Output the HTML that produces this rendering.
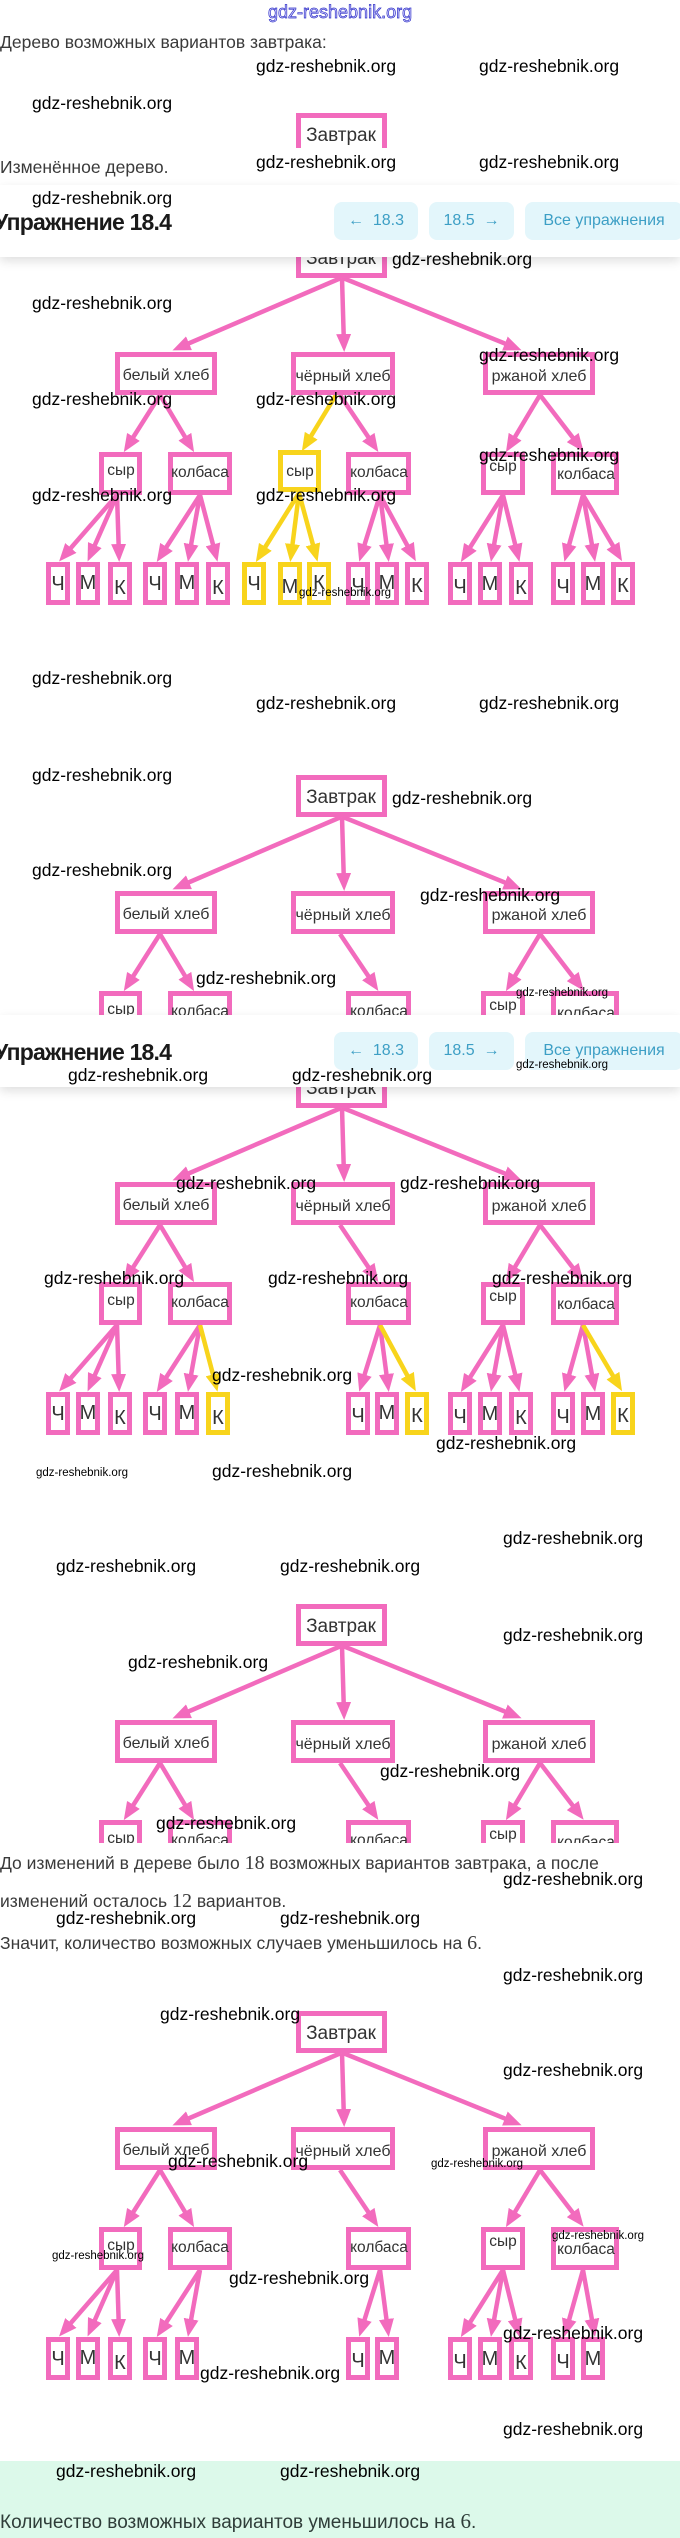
<!DOCTYPE html>
<html><head><meta charset="utf-8">
<style>
html,body{margin:0;padding:0;background:#fff}
body{position:relative;width:680px;height:2538px;overflow:hidden}
.tw{position:absolute;left:0;width:680px;overflow:hidden;z-index:1}
.tw svg{position:absolute;left:0;top:0}
svg text{font-family:"Liberation Sans",sans-serif;fill:#333;text-anchor:middle}
.b{fill:#fff;stroke:#f26bbd;stroke-width:5}
.by{fill:#fff;stroke:#f8d41c;stroke-width:5}
.a{stroke:#f26bbd;stroke-width:4.5;marker-end:url(#mp)}
.ay{stroke:#f8d41c;stroke-width:4.5;marker-end:url(#my)}
.l2{font-size:16px}
.l3{font-size:15.5px}
.lf{font-size:20px}
.w{position:absolute;font:17.5px/1 "Liberation Sans",sans-serif;color:#000;white-space:nowrap;z-index:10}
.ws{position:absolute;font:11.5px/1 "Liberation Sans",sans-serif;color:#000;white-space:nowrap;z-index:10}
.tx{position:absolute;left:0;font:17.5px/1 "Liberation Sans","Noto Sans CJK SC",sans-serif;color:#3a3a3a;white-space:nowrap;z-index:2}
.num{font-family:"Liberation Serif",serif;font-size:20px}
.hdr{position:absolute;left:0;width:680px;height:72px;background:#fff;box-shadow:0 4px 10px rgba(0,0,0,0.13);z-index:5}
.ttl{position:absolute;left:-6px;top:26px;font:bold 23px/1 "Liberation Sans",sans-serif;letter-spacing:-0.8px;color:#1a1a1a;white-space:nowrap}
.btn{position:absolute;top:17px;height:38px;line-height:38px;background:#e3f6fb;border-radius:8px;color:#3d9fc5;font:16px/38px "Liberation Sans",sans-serif;text-align:center;white-space:nowrap}
</style></head><body>

<svg width="0" height="0" style="position:absolute">
<defs>
<marker id="mp" markerUnits="userSpaceOnUse" markerWidth="18" markerHeight="15" viewBox="0 0 18 15" refX="12" refY="7.5" orient="auto"><path d="M0,0L18,7.5L0,15z" fill="#f26bbd"/></marker>
<marker id="my" markerUnits="userSpaceOnUse" markerWidth="18" markerHeight="15" viewBox="0 0 18 15" refX="12" refY="7.5" orient="auto"><path d="M0,0L18,7.5L0,15z" fill="#f8d41c"/></marker>
</defs>
</svg>

<!-- top blue watermark -->
<div style="position:absolute;left:268px;top:3px;font:18px/1 'Liberation Sans',sans-serif;color:#dcdcff;-webkit-text-stroke:0.7px #3030c8;white-space:nowrap;z-index:10">gdz-reshebnik.org</div>

<div class="tx" style="top:34px">Дерево возможных вариантов завтрака:</div>

<!-- Tree 0 fragment -->
<div class="tw" style="top:113px;height:35px">
<svg width="680" height="60" viewBox="0 0 680 60">
<rect class="b" x="298.5" y="2.5" width="86" height="37"/><text x="341" y="28" font-size="19">Завтрак</text>
</svg></div>

<div class="tx" style="top:159px">Изменённое дерево.</div>

<!-- Header 1 -->
<div class="hdr" style="top:185px">
<div class="ttl">Упражнение 18.4</div>
<div class="btn" style="left:334px;width:84px">←&nbsp; 18.3</div>
<div class="btn" style="left:429px;width:85px">18.5 &nbsp;→</div>
<div class="btn" style="left:525px;width:158px">Все упражнения</div>
</div>

<!-- Tree 1 (original, yellow path) -->
<div class="tw" style="top:236px;height:372px">
<svg width="680" height="372" viewBox="0 0 680 372">
<line class="a" x1="341" y1="42" x2="178" y2="112"/>
<line class="a" x1="342" y1="42" x2="344" y2="110"/>
<line class="a" x1="343" y1="42" x2="516" y2="112"/>
<line class="a" x1="160" y1="159" x2="127" y2="211"/>
<line class="a" x1="160" y1="159" x2="191" y2="211"/>
<line class="ay" x1="336" y1="159" x2="305" y2="210"/>
<line class="a" x1="340" y1="159" x2="375" y2="211"/>
<line class="a" x1="540" y1="159" x2="509" y2="211"/>
<line class="a" x1="540" y1="159" x2="580" y2="211"/>
<line class="a" x1="117" y1="259" x2="63" y2="321"/>
<line class="a" x1="117" y1="259" x2="90" y2="320"/>
<line class="a" x1="117" y1="259" x2="119" y2="320"/>
<line class="a" x1="200" y1="259" x2="160" y2="321"/>
<line class="a" x1="200" y1="259" x2="189" y2="320"/>
<line class="a" x1="200" y1="259" x2="216" y2="320"/>
<line class="ay" x1="299" y1="257" x2="259" y2="321"/>
<line class="ay" x1="299" y1="257" x2="291" y2="320"/>
<line class="ay" x1="299" y1="257" x2="316" y2="320"/>
<line class="a" x1="380" y1="259" x2="361" y2="320"/>
<line class="a" x1="380" y1="259" x2="388" y2="320"/>
<line class="a" x1="380" y1="259" x2="413" y2="320"/>
<line class="a" x1="503" y1="259" x2="464" y2="321"/>
<line class="a" x1="503" y1="259" x2="492" y2="320"/>
<line class="a" x1="503" y1="259" x2="518" y2="320"/>
<line class="a" x1="583" y1="259" x2="566" y2="320"/>
<line class="a" x1="583" y1="259" x2="594" y2="320"/>
<line class="a" x1="583" y1="259" x2="619" y2="320"/>
<rect class="b" x="298.5" y="2.5" width="86" height="37"/><text x="341" y="28" font-size="19">Завтрак</text>
<rect class="b" x="117.5" y="118.5" width="97" height="38"/><text class="l2" x="166" y="144">белый хлеб</text>
<rect class="b" x="293.5" y="118.5" width="99" height="38"/><text class="l2" x="343" y="145">чёрный хлеб</text>
<rect class="b" x="485.5" y="118.5" width="107" height="38"/><text class="l2" x="539" y="145">ржаной хлеб</text>
<rect class="b" x="101.5" y="218.5" width="38" height="38"/><text class="l3" x="121" y="239">сыр</text>
<rect class="b" x="170.5" y="218.5" width="59" height="38"/><text class="l3" x="200" y="241">колбаса</text>
<rect class="by" x="280.5" y="216.5" width="38" height="37"/><text class="l3" x="300" y="240">сыр</text>
<rect class="b" x="348.5" y="218.5" width="60" height="38"/><text class="l3" x="379" y="241">колбаса</text>
<rect class="b" x="483.5" y="218.5" width="39" height="38"/><text class="l3" x="503" y="235">сыр</text>
<rect class="b" x="553.5" y="218.5" width="63" height="38"/><text class="l3" x="586" y="243">колбаса</text>
<rect class="b" x="48.5" y="328.5" width="19" height="38"/><text class="lf" x="58" y="354">Ч</text>
<rect class="b" x="78.5" y="328.5" width="19" height="38"/><text class="lf" x="88" y="353">М</text>
<rect class="b" x="110.5" y="328.5" width="19" height="38"/><text class="lf" x="120" y="358">К</text>
<rect class="b" x="145.5" y="328.5" width="19" height="38"/><text class="lf" x="155" y="354">Ч</text>
<rect class="b" x="177.5" y="328.5" width="19" height="38"/><text class="lf" x="187" y="353">М</text>
<rect class="b" x="208.5" y="328.5" width="19" height="38"/><text class="lf" x="218" y="358">К</text>
<rect class="by" x="244.5" y="328.5" width="19" height="38"/><text class="lf" x="254" y="354">Ч</text>
<rect class="by" x="280.5" y="328.5" width="19" height="38"/><text class="lf" x="290" y="357">М</text>
<rect class="by" x="309.5" y="328.5" width="19" height="38"/><text class="lf" x="319" y="353">К</text>
<rect class="b" x="348.5" y="328.5" width="19" height="38"/><text class="lf" x="358" y="356">Ч</text>
<rect class="b" x="377.5" y="328.5" width="19" height="38"/><text class="lf" x="387" y="353">М</text>
<rect class="b" x="407.5" y="328.5" width="19" height="38"/><text class="lf" x="417" y="356">К</text>
<rect class="b" x="450.5" y="328.5" width="19" height="38"/><text class="lf" x="460" y="357">Ч</text>
<rect class="b" x="480.5" y="328.5" width="19" height="38"/><text class="lf" x="490" y="354">М</text>
<rect class="b" x="511.5" y="328.5" width="19" height="38"/><text class="lf" x="521" y="358">К</text>
<rect class="b" x="553.5" y="328.5" width="19" height="38"/><text class="lf" x="563" y="357">Ч</text>
<rect class="b" x="583.5" y="328.5" width="19" height="38"/><text class="lf" x="593" y="354">М</text>
<rect class="b" x="613.5" y="328.5" width="19" height="38"/><text class="lf" x="623" y="356">К</text>
</svg></div>

<!-- Tree 2 (modified, cut) -->
<div class="tw" style="top:775px;height:240px">
<svg width="680" height="372" viewBox="0 0 680 372">
<line class="a" x1="341" y1="42" x2="178" y2="112"/>
<line class="a" x1="342" y1="42" x2="344" y2="110"/>
<line class="a" x1="343" y1="42" x2="516" y2="112"/>
<line class="a" x1="160" y1="159" x2="127" y2="211"/>
<line class="a" x1="160" y1="159" x2="191" y2="211"/>
<line class="a" x1="340" y1="159" x2="375" y2="211"/>
<line class="a" x1="540" y1="159" x2="509" y2="211"/>
<line class="a" x1="540" y1="159" x2="580" y2="211"/>
<rect class="b" x="298.5" y="2.5" width="86" height="37"/><text x="341" y="28" font-size="19">Завтрак</text>
<rect class="b" x="117.5" y="118.5" width="97" height="38"/><text class="l2" x="166" y="144">белый хлеб</text>
<rect class="b" x="293.5" y="118.5" width="99" height="38"/><text class="l2" x="343" y="145">чёрный хлеб</text>
<rect class="b" x="485.5" y="118.5" width="107" height="38"/><text class="l2" x="539" y="145">ржаной хлеб</text>
<rect class="b" x="101.5" y="218.5" width="38" height="38"/><text class="l3" x="121" y="239">сыр</text>
<rect class="b" x="170.5" y="218.5" width="59" height="38"/><text class="l3" x="200" y="241">колбаса</text>
<rect class="b" x="348.5" y="218.5" width="60" height="38"/><text class="l3" x="379" y="241">колбаса</text>
<rect class="b" x="483.5" y="218.5" width="39" height="38"/><text class="l3" x="503" y="235">сыр</text>
<rect class="b" x="553.5" y="218.5" width="63" height="38"/><text class="l3" x="586" y="243">колбаса</text>
</svg></div>

<!-- Header 2 -->
<div class="hdr" style="top:1015px">
<div class="ttl">Упражнение 18.4</div>
<div class="btn" style="left:334px;width:84px">←&nbsp; 18.3</div>
<div class="btn" style="left:429px;width:85px">18.5 &nbsp;→</div>
<div class="btn" style="left:525px;width:158px">Все упражнения</div>
</div>

<!-- Tree 3 (modified, yellow K) -->
<div class="tw" style="top:1066px;height:372px">
<svg width="680" height="372" viewBox="0 0 680 372">
<line class="a" x1="341" y1="42" x2="178" y2="112"/>
<line class="a" x1="342" y1="42" x2="344" y2="110"/>
<line class="a" x1="343" y1="42" x2="516" y2="112"/>
<line class="a" x1="160" y1="159" x2="127" y2="211"/>
<line class="a" x1="160" y1="159" x2="191" y2="211"/>
<line class="a" x1="340" y1="159" x2="375" y2="211"/>
<line class="a" x1="540" y1="159" x2="509" y2="211"/>
<line class="a" x1="540" y1="159" x2="580" y2="211"/>
<line class="a" x1="117" y1="259" x2="63" y2="321"/>
<line class="a" x1="117" y1="259" x2="90" y2="320"/>
<line class="a" x1="117" y1="259" x2="119" y2="320"/>
<line class="a" x1="200" y1="259" x2="160" y2="321"/>
<line class="a" x1="200" y1="259" x2="189" y2="320"/>
<line class="ay" x1="200" y1="259" x2="216" y2="320"/>
<line class="a" x1="380" y1="259" x2="361" y2="320"/>
<line class="a" x1="380" y1="259" x2="388" y2="320"/>
<line class="ay" x1="380" y1="259" x2="413" y2="320"/>
<line class="a" x1="503" y1="259" x2="464" y2="321"/>
<line class="a" x1="503" y1="259" x2="492" y2="320"/>
<line class="a" x1="503" y1="259" x2="518" y2="320"/>
<line class="a" x1="583" y1="259" x2="566" y2="320"/>
<line class="a" x1="583" y1="259" x2="594" y2="320"/>
<line class="ay" x1="583" y1="259" x2="619" y2="320"/>
<rect class="b" x="298.5" y="2.5" width="86" height="37"/><text x="341" y="28" font-size="19">Завтрак</text>
<rect class="b" x="117.5" y="118.5" width="97" height="38"/><text class="l2" x="166" y="144">белый хлеб</text>
<rect class="b" x="293.5" y="118.5" width="99" height="38"/><text class="l2" x="343" y="145">чёрный хлеб</text>
<rect class="b" x="485.5" y="118.5" width="107" height="38"/><text class="l2" x="539" y="145">ржаной хлеб</text>
<rect class="b" x="101.5" y="218.5" width="38" height="38"/><text class="l3" x="121" y="239">сыр</text>
<rect class="b" x="170.5" y="218.5" width="59" height="38"/><text class="l3" x="200" y="241">колбаса</text>
<rect class="b" x="348.5" y="218.5" width="60" height="38"/><text class="l3" x="379" y="241">колбаса</text>
<rect class="b" x="483.5" y="218.5" width="39" height="38"/><text class="l3" x="503" y="235">сыр</text>
<rect class="b" x="553.5" y="218.5" width="63" height="38"/><text class="l3" x="586" y="243">колбаса</text>
<rect class="b" x="48.5" y="328.5" width="19" height="38"/><text class="lf" x="58" y="354">Ч</text>
<rect class="b" x="78.5" y="328.5" width="19" height="38"/><text class="lf" x="88" y="353">М</text>
<rect class="b" x="110.5" y="328.5" width="19" height="38"/><text class="lf" x="120" y="358">К</text>
<rect class="b" x="145.5" y="328.5" width="19" height="38"/><text class="lf" x="155" y="354">Ч</text>
<rect class="b" x="177.5" y="328.5" width="19" height="38"/><text class="lf" x="187" y="353">М</text>
<rect class="by" x="208.5" y="328.5" width="19" height="38"/><text class="lf" x="218" y="358">К</text>
<rect class="b" x="348.5" y="328.5" width="19" height="38"/><text class="lf" x="358" y="356">Ч</text>
<rect class="b" x="377.5" y="328.5" width="19" height="38"/><text class="lf" x="387" y="353">М</text>
<rect class="by" x="407.5" y="328.5" width="19" height="38"/><text class="lf" x="417" y="356">К</text>
<rect class="b" x="450.5" y="328.5" width="19" height="38"/><text class="lf" x="460" y="357">Ч</text>
<rect class="b" x="480.5" y="328.5" width="19" height="38"/><text class="lf" x="490" y="354">М</text>
<rect class="b" x="511.5" y="328.5" width="19" height="38"/><text class="lf" x="521" y="358">К</text>
<rect class="b" x="553.5" y="328.5" width="19" height="38"/><text class="lf" x="563" y="357">Ч</text>
<rect class="b" x="583.5" y="328.5" width="19" height="38"/><text class="lf" x="593" y="354">М</text>
<rect class="by" x="613.5" y="328.5" width="19" height="38"/><text class="lf" x="623" y="356">К</text>
</svg></div>

<!-- Tree 4 (modified, cut) -->
<div class="tw" style="top:1604px;height:239px">
<svg width="680" height="372" viewBox="0 0 680 372">
<line class="a" x1="341" y1="42" x2="178" y2="112"/>
<line class="a" x1="342" y1="42" x2="344" y2="110"/>
<line class="a" x1="343" y1="42" x2="516" y2="112"/>
<line class="a" x1="160" y1="159" x2="127" y2="211"/>
<line class="a" x1="160" y1="159" x2="191" y2="211"/>
<line class="a" x1="340" y1="159" x2="375" y2="211"/>
<line class="a" x1="540" y1="159" x2="509" y2="211"/>
<line class="a" x1="540" y1="159" x2="580" y2="211"/>
<rect class="b" x="298.5" y="2.5" width="86" height="37"/><text x="341" y="28" font-size="19">Завтрак</text>
<rect class="b" x="117.5" y="118.5" width="97" height="38"/><text class="l2" x="166" y="144">белый хлеб</text>
<rect class="b" x="293.5" y="118.5" width="99" height="38"/><text class="l2" x="343" y="145">чёрный хлеб</text>
<rect class="b" x="485.5" y="118.5" width="107" height="38"/><text class="l2" x="539" y="145">ржаной хлеб</text>
<rect class="b" x="101.5" y="218.5" width="38" height="38"/><text class="l3" x="121" y="239">сыр</text>
<rect class="b" x="170.5" y="218.5" width="59" height="38"/><text class="l3" x="200" y="241">колбаса</text>
<rect class="b" x="348.5" y="218.5" width="60" height="38"/><text class="l3" x="379" y="241">колбаса</text>
<rect class="b" x="483.5" y="218.5" width="39" height="38"/><text class="l3" x="503" y="235">сыр</text>
<rect class="b" x="553.5" y="218.5" width="63" height="38"/><text class="l3" x="586" y="243">колбаса</text>
</svg></div>

<div class="tx" style="top:1853px">До изменений в дереве было <span class="num">18</span> возможных вариантов завтрака, а после</div>
<div class="tx" style="top:1891px">изменений осталось <span class="num">12</span> вариантов.</div>
<div class="tx" style="top:1933px">Значит, количество возможных случаев уменьшилось на <span class="num">6</span>.</div>

<!-- Tree 5 (final) -->
<div class="tw" style="top:2011px;height:372px">
<svg width="680" height="372" viewBox="0 0 680 372">
<line class="a" x1="341" y1="42" x2="178" y2="112"/>
<line class="a" x1="342" y1="42" x2="344" y2="110"/>
<line class="a" x1="343" y1="42" x2="516" y2="112"/>
<line class="a" x1="160" y1="159" x2="127" y2="211"/>
<line class="a" x1="160" y1="159" x2="191" y2="211"/>
<line class="a" x1="340" y1="159" x2="375" y2="211"/>
<line class="a" x1="540" y1="159" x2="509" y2="211"/>
<line class="a" x1="540" y1="159" x2="580" y2="211"/>
<line class="a" x1="117" y1="259" x2="63" y2="321"/>
<line class="a" x1="117" y1="259" x2="90" y2="320"/>
<line class="a" x1="117" y1="259" x2="119" y2="320"/>
<line class="a" x1="200" y1="259" x2="160" y2="321"/>
<line class="a" x1="200" y1="259" x2="189" y2="320"/>
<line class="a" x1="380" y1="259" x2="361" y2="320"/>
<line class="a" x1="380" y1="259" x2="388" y2="320"/>
<line class="a" x1="503" y1="259" x2="464" y2="321"/>
<line class="a" x1="503" y1="259" x2="492" y2="320"/>
<line class="a" x1="503" y1="259" x2="518" y2="320"/>
<line class="a" x1="583" y1="259" x2="566" y2="320"/>
<line class="a" x1="583" y1="259" x2="594" y2="320"/>
<rect class="b" x="298.5" y="2.5" width="86" height="37"/><text x="341" y="28" font-size="19">Завтрак</text>
<rect class="b" x="117.5" y="118.5" width="97" height="38"/><text class="l2" x="166" y="144">белый хлеб</text>
<rect class="b" x="293.5" y="118.5" width="99" height="38"/><text class="l2" x="343" y="145">чёрный хлеб</text>
<rect class="b" x="485.5" y="118.5" width="107" height="38"/><text class="l2" x="539" y="145">ржаной хлеб</text>
<rect class="b" x="101.5" y="218.5" width="38" height="38"/><text class="l3" x="121" y="239">сыр</text>
<rect class="b" x="170.5" y="218.5" width="59" height="38"/><text class="l3" x="200" y="241">колбаса</text>
<rect class="b" x="348.5" y="218.5" width="60" height="38"/><text class="l3" x="379" y="241">колбаса</text>
<rect class="b" x="483.5" y="218.5" width="39" height="38"/><text class="l3" x="503" y="235">сыр</text>
<rect class="b" x="553.5" y="218.5" width="63" height="38"/><text class="l3" x="586" y="243">колбаса</text>
<rect class="b" x="48.5" y="328.5" width="19" height="38"/><text class="lf" x="58" y="354">Ч</text>
<rect class="b" x="78.5" y="328.5" width="19" height="38"/><text class="lf" x="88" y="353">М</text>
<rect class="b" x="110.5" y="328.5" width="19" height="38"/><text class="lf" x="120" y="358">К</text>
<rect class="b" x="145.5" y="328.5" width="19" height="38"/><text class="lf" x="155" y="354">Ч</text>
<rect class="b" x="177.5" y="328.5" width="19" height="38"/><text class="lf" x="187" y="353">М</text>
<rect class="b" x="348.5" y="328.5" width="19" height="38"/><text class="lf" x="358" y="356">Ч</text>
<rect class="b" x="377.5" y="328.5" width="19" height="38"/><text class="lf" x="387" y="353">М</text>
<rect class="b" x="450.5" y="328.5" width="19" height="38"/><text class="lf" x="460" y="357">Ч</text>
<rect class="b" x="480.5" y="328.5" width="19" height="38"/><text class="lf" x="490" y="354">М</text>
<rect class="b" x="511.5" y="328.5" width="19" height="38"/><text class="lf" x="521" y="358">К</text>
<rect class="b" x="553.5" y="328.5" width="19" height="38"/><text class="lf" x="563" y="357">Ч</text>
<rect class="b" x="583.5" y="328.5" width="19" height="38"/><text class="lf" x="593" y="354">М</text>
</svg></div>

<!-- green result band -->
<div style="position:absolute;left:0;top:2461px;width:680px;height:77px;background:#dcf9ea;z-index:1"></div>
<div class="tx" style="top:2511px;font-size:19px;color:#2f3d39">Количество возможных вариантов уменьшилось на <span class="num" style="font-size:21px">6</span>.</div>

<!-- watermarks -->
<div class="w" style="left:256px;top:58px">gdz-reshebnik.org</div>
<div class="w" style="left:479px;top:58px">gdz-reshebnik.org</div>
<div class="w" style="left:32px;top:95px">gdz-reshebnik.org</div>
<div class="w" style="left:256px;top:154px">gdz-reshebnik.org</div>
<div class="w" style="left:479px;top:154px">gdz-reshebnik.org</div>
<div class="w" style="left:32px;top:190px">gdz-reshebnik.org</div>
<div class="w" style="left:392px;top:251px">gdz-reshebnik.org</div>
<div class="w" style="left:32px;top:295px">gdz-reshebnik.org</div>
<div class="w" style="left:479px;top:347px">gdz-reshebnik.org</div>
<div class="w" style="left:32px;top:391px">gdz-reshebnik.org</div>
<div class="w" style="left:256px;top:391px">gdz-reshebnik.org</div>
<div class="w" style="left:479px;top:447px">gdz-reshebnik.org</div>
<div class="w" style="left:32px;top:487px">gdz-reshebnik.org</div>
<div class="w" style="left:256px;top:487px">gdz-reshebnik.org</div>
<div class="ws" style="left:299px;top:588px">gdz-reshebnik.org</div>
<div class="w" style="left:32px;top:670px">gdz-reshebnik.org</div>
<div class="w" style="left:256px;top:695px">gdz-reshebnik.org</div>
<div class="w" style="left:479px;top:695px">gdz-reshebnik.org</div>
<div class="w" style="left:32px;top:767px">gdz-reshebnik.org</div>
<div class="w" style="left:392px;top:790px">gdz-reshebnik.org</div>
<div class="w" style="left:32px;top:862px">gdz-reshebnik.org</div>
<div class="w" style="left:420px;top:887px">gdz-reshebnik.org</div>
<div class="w" style="left:196px;top:970px">gdz-reshebnik.org</div>
<div class="ws" style="left:516px;top:988px">gdz-reshebnik.org</div>
<div class="ws" style="left:516px;top:1060px">gdz-reshebnik.org</div>
<div class="w" style="left:68px;top:1067px">gdz-reshebnik.org</div>
<div class="w" style="left:292px;top:1067px">gdz-reshebnik.org</div>
<div class="w" style="left:176px;top:1175px">gdz-reshebnik.org</div>
<div class="w" style="left:400px;top:1175px">gdz-reshebnik.org</div>
<div class="w" style="left:44px;top:1270px">gdz-reshebnik.org</div>
<div class="w" style="left:268px;top:1270px">gdz-reshebnik.org</div>
<div class="w" style="left:492px;top:1270px">gdz-reshebnik.org</div>
<div class="w" style="left:212px;top:1367px">gdz-reshebnik.org</div>
<div class="w" style="left:436px;top:1435px">gdz-reshebnik.org</div>
<div class="ws" style="left:36px;top:1468px">gdz-reshebnik.org</div>
<div class="w" style="left:212px;top:1463px">gdz-reshebnik.org</div>
<div class="w" style="left:503px;top:1530px">gdz-reshebnik.org</div>
<div class="w" style="left:56px;top:1558px">gdz-reshebnik.org</div>
<div class="w" style="left:280px;top:1558px">gdz-reshebnik.org</div>
<div class="w" style="left:503px;top:1627px">gdz-reshebnik.org</div>
<div class="w" style="left:128px;top:1654px">gdz-reshebnik.org</div>
<div class="w" style="left:380px;top:1763px">gdz-reshebnik.org</div>
<div class="w" style="left:156px;top:1815px">gdz-reshebnik.org</div>
<div class="w" style="left:503px;top:1871px">gdz-reshebnik.org</div>
<div class="w" style="left:56px;top:1910px">gdz-reshebnik.org</div>
<div class="w" style="left:280px;top:1910px">gdz-reshebnik.org</div>
<div class="w" style="left:503px;top:1967px">gdz-reshebnik.org</div>
<div class="w" style="left:160px;top:2006px">gdz-reshebnik.org</div>
<div class="w" style="left:503px;top:2062px">gdz-reshebnik.org</div>
<div class="w" style="left:168px;top:2153px">gdz-reshebnik.org</div>
<div class="ws" style="left:431px;top:2159px">gdz-reshebnik.org</div>
<div class="ws" style="left:552px;top:2231px">gdz-reshebnik.org</div>
<div class="ws" style="left:52px;top:2251px">gdz-reshebnik.org</div>
<div class="w" style="left:229px;top:2270px">gdz-reshebnik.org</div>
<div class="w" style="left:503px;top:2325px">gdz-reshebnik.org</div>
<div class="w" style="left:200px;top:2365px">gdz-reshebnik.org</div>
<div class="w" style="left:503px;top:2421px">gdz-reshebnik.org</div>
<div class="w" style="left:56px;top:2463px">gdz-reshebnik.org</div>
<div class="w" style="left:280px;top:2463px">gdz-reshebnik.org</div>

</body></html>
